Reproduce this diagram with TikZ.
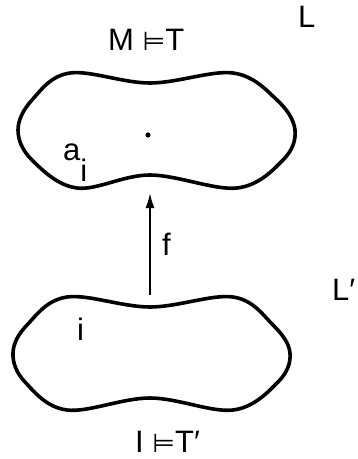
\documentclass[tikz,border=0pt]{standalone}
\usepackage{fontspec}
\setmainfont{Liberation Sans}
\newfontfamily\dejavu{DejaVu Sans}
\usetikzlibrary{arrows.meta}
\begin{document}
\begin{tikzpicture}[x=1pt,y=-1pt,
  blob/.style={line width=3.6pt,line join=round},
  lbl/.style={anchor=base west,inner sep=0pt,font=\fontsize{31}{31}\selectfont}]
  \useasboundingbox (0,0) rectangle (357,459);
  % model M
  \draw[blob] plot[smooth cycle,tension=.6] coordinates
	{(18,130) (32,100) (70,73) (150,83) (233,73) (277,100)
	 (295,130) (283,160) (237,188) (150,175) (77,188) (32,160)};
  \fill (148,135) circle (2.6);
  % model I
  \draw[blob] plot[smooth cycle,tension=.6] coordinates
	{(13,353) (27,325) (67,297) (150,307) (233,297) (273,325)
	 (290,353) (278,382) (233,410) (150,398) (67,410) (25,382)};
  \coordinate (ftail) at (150,295);
  \coordinate (fhead) at (150,192);
  \draw[-{Latex[length=16pt,width=9pt]},line width=2.8pt] (ftail)--(fhead);
  \node[lbl] (mt) at (108,50) {M {\dejavu\fontsize{26}{26}\selectfont ⊨}T};
  \node[lbl] (l) at (298,27) {L};
  \node[lbl] (ai) at (63,160) {a\raisebox{-.68em}{i}};
  \node[lbl] (f) at (162,255) {f};
  \node[lbl] (i) at (77,340) {i};
  \node[lbl] (lp) at (332,300) {L′};
  \node[lbl] (it) at (135,452) {I {\dejavu\fontsize{26}{26}\selectfont ⊨}T′};
\end{tikzpicture}
\end{document}
